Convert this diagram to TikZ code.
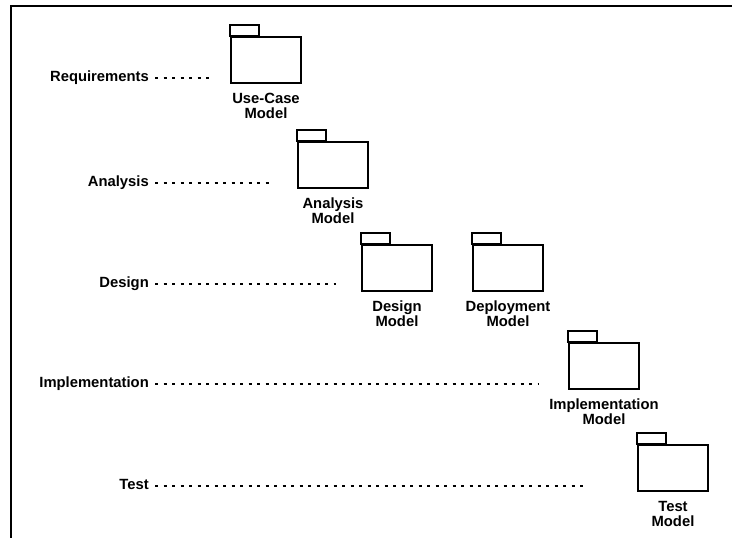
\documentclass[tikz,border=0pt]{standalone}
\usepackage{fontspec}
\setmainfont{Liberation Sans}
\begin{document}
\begin{tikzpicture}[x=1pt,y=-1pt,
  txt/.style={font=\bfseries\fontsize{14.8}{15}\selectfont, inner sep=0pt},
  stage/.style={txt, anchor=base east},
  caption/.style={txt, anchor=north, align=center},
  folder/.style={draw, line width=1.8pt, minimum width=70pt, minimum height=46pt, inner sep=0pt},
  tab/.style={draw, line width=1.8pt},
  leader/.style={line width=1.8pt, dash pattern=on 3pt off 5.5pt}
]
\useasboundingbox (0,0) rectangle (732,538);
% frame
\draw[line width=1.8pt] (11,538) -- (11,6) -- (732,6);

% model packages
\node[folder] (uc) at (266,60) {};
\node[folder] (an) at (333,165) {};
\node[folder] (de) at (397,268) {};
\node[folder] (dp) at (508,268) {};
\node[folder] (im) at (604,366) {};
\node[folder] (te) at (673,468) {};
\foreach \f in {uc,an,de,dp,im,te}
  \draw[tab] (\f.north west) rectangle ++(29,-11);

% package captions
\node[caption] (ucl) at ([yshift=-9pt]uc.south) {Use-Case\\Model};
\node[caption] (anl) at ([yshift=-9pt]an.south) {Analysis\\Model};
\node[caption] (del) at ([yshift=-9pt]de.south) {Design\\Model};
\node[caption] (dpl) at ([yshift=-9pt]dp.south) {Deployment\\Model};
\node[caption] (iml) at ([yshift=-9pt]im.south) {Implementation\\Model};
\node[caption] (tel) at ([yshift=-9pt]te.south) {Test\\Model};

% workflow names
\node[stage] (req) at (149,81) {Requirements};
\node[stage] (ana) at (149,186) {Analysis};
\node[stage] (des) at (149,287) {Design};
\node[stage] (imp) at (149,387) {Implementation};
\node[stage] (tst) at (149,489) {Test};

% leader ends
\coordinate (reqEnd) at (213,78);
\coordinate (anaEnd) at (271,183);
\coordinate (desEnd) at (336,284);
\coordinate (impEnd) at (539,384);
\coordinate (tstEnd) at (586,486);

\draw[leader] ([shift={(6pt,3pt)}]req.base east) -- (reqEnd);
\draw[leader] ([shift={(6pt,3pt)}]ana.base east) -- (anaEnd);
\draw[leader] ([shift={(6pt,3pt)}]des.base east) -- (desEnd);
\draw[leader] ([shift={(6pt,3pt)}]imp.base east) -- (impEnd);
\draw[leader] ([shift={(6pt,3pt)}]tst.base east) -- (tstEnd);
\end{tikzpicture}
\end{document}
